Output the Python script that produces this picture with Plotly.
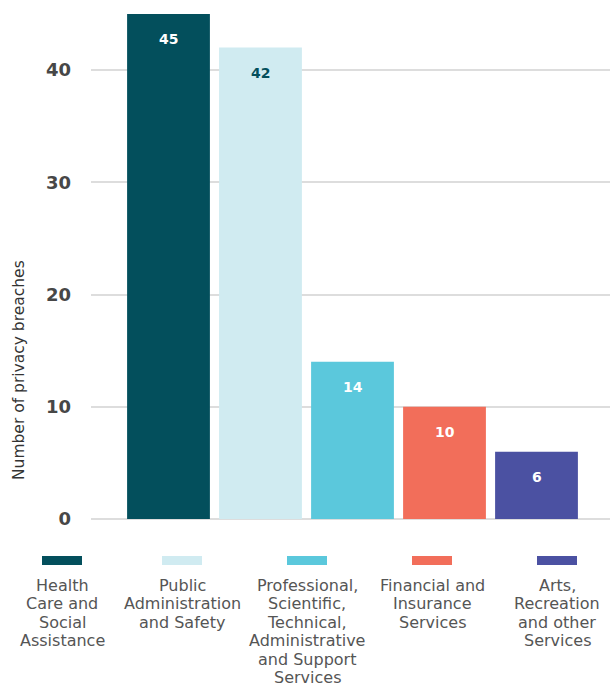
import plotly.graph_objects as go

categories = ["Health Care and Social Assistance", "Public Administration and Safety",
              "Professional, Scientific, Technical, Administrative and Support Services",
              "Financial and Insurance Services", "Arts, Recreation and other Services"]
legend_labels = ["Health<br>Care and<br>Social<br>Assistance",
                 "Public<br>Administration<br>and Safety",
                 "Professional,<br>Scientific,<br>Technical,<br>Administrative<br>and Support<br>Services",
                 "Financial and<br>Insurance<br>Services",
                 "Arts,<br>Recreation<br>and other<br>Services"]
values = [45, 42, 14, 10, 6]
colors = ["#034f5c", "#d0ebf1", "#5bc8dc", "#f26e5a", "#4b51a2"]
text_colors = ["white", "#034f5c", "white", "white", "white"]
y_ticks = [0, 10, 20, 30, 40]

FONT = "DejaVu Sans"
W, H = 614, 688
ml, mr, mt, mb = 91, 4, 0, 169
pw = W - ml - mr
ph = H - mt - mb

fig = go.Figure()
xs = list(range(len(values)))
fig.add_trace(go.Bar(x=xs, y=values, marker=dict(color=colors, line=dict(width=0)),
                     width=0.9, hoverinfo="skip", showlegend=False))

for i, v in enumerate(values):
    fig.add_annotation(x=i, y=v, xref="x", yref="y", text=f"<b>{v}</b>", showarrow=False,
                       yanchor="middle", yshift=-25,
                       font=dict(family=FONT, size=14, color=text_colors[i]))

# custom legend
leg_centers = [62, 182, 307, 432, 557]
line_step = 18.5
for i, c in enumerate(colors):
    cx = leg_centers[i]
    fig.add_shape(type="rect", xref="paper", yref="paper",
                  x0=(cx - 20 - ml) / pw, x1=(cx + 20 - ml) / pw,
                  y0=(ph - 565) / ph, y1=(ph - 556) / ph,
                  fillcolor=c, line=dict(width=0))
    for k, line in enumerate(legend_labels[i].split("<br>")):
        cy = 585 + k * line_step
        fig.add_annotation(xref="paper", yref="paper", x=(cx - ml) / pw, y=(ph - cy) / ph,
                           text=line, showarrow=False, xanchor="center", yanchor="middle",
                           align="center", borderpad=0,
                           font=dict(family=FONT, size=16, color="#555555"))

fig.add_annotation(xref="paper", yref="paper", x=(19 - ml) / pw, y=(ph - 370) / ph,
                   text="Number of privacy breaches", textangle=-90, showarrow=False,
                   xanchor="center", yanchor="middle",
                   font=dict(family=FONT, size=15.5, color="#333333"))

x_left = -0.5 - (122.5 - 91) / 92
x_right = 4.5 + (610 - 582.5) / 92
fig.update_layout(
    width=W, height=H, margin=dict(l=ml, r=mr, t=mt, b=mb),
    plot_bgcolor="white", paper_bgcolor="white",
    bargap=0.1,
    xaxis=dict(range=[x_left, x_right], showticklabels=False, showgrid=False,
               zeroline=False, showline=False, fixedrange=True),
    yaxis=dict(range=[0, ph / 11.225], tickvals=y_ticks, showgrid=True, gridcolor="#dddddd",
               gridwidth=2, zeroline=True, zerolinecolor="#dddddd", zerolinewidth=2,
               ticklabelstandoff=19,
               tickfont=dict(family=FONT, size=18, color="#474747", weight="bold")),
    font=dict(family=FONT),
)
fig.write_html("out.html")
